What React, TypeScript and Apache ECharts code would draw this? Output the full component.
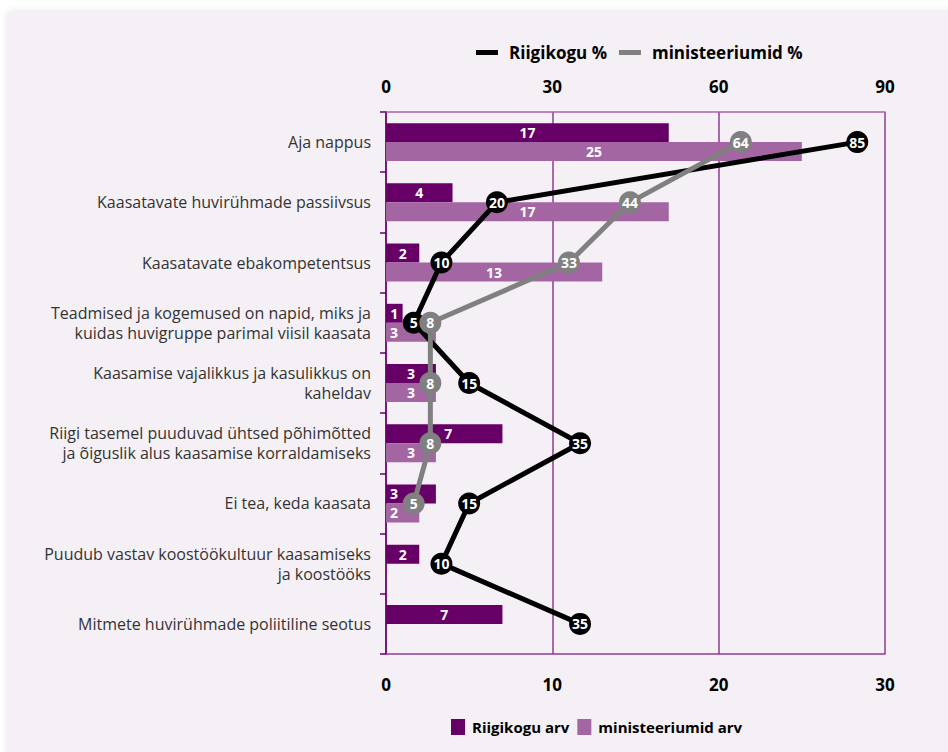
import React, { useEffect, useRef } from "react";
import * as echarts from "echarts";

const categories = [
  "Aja nappus",
  "Kaasatavate huvirühmade passiivsus",
  "Kaasatavate ebakompetentsus",
  "Teadmised ja kogemused on napid, miks ja\nkuidas huvigruppe parimal viisil kaasata",
  "Kaasamise vajalikkus ja kasulikkus on\nkaheldav",
  "Riigi tasemel puuduvad ühtsed põhimõtted\nja õiguslik alus kaasamise korraldamiseks",
  "Ei tea, keda kaasata",
  "Puudub vastav koostöökultuur kaasamiseks\nja koostööks",
  "Mitmete huvirühmade poliitiline seotus",
];
const riigikoguArv = [17, 4, 2, 1, 3, 7, 3, 2, 7];
const ministeeriumidArv = [25, 17, 13, 3, 3, 3, 2, null, null];
const riigikoguPct = [85, 20, 10, 5, 15, 35, 15, 10, 35];
const ministeeriumidPct = [64, 44, 33, 8, 8, 8, 5, null, null];
const countTicks = [0, 10, 20, 30];
const pctTicks = [0, 30, 60, 90];

const FONT = "'Open Sans', 'Noto Sans', sans-serif";
const DARK = "#660066";
const LIGHT = "#a366a3";
const AXIS = "#8d3d8f";

// label placement tweaks (style only), by category index
const riigikoguLabelLeft = [6];
const ministeeriumidLabelLeft = [3, 6];
const riigikoguLabelShift: Record<number, number[]> = { 5: [4, 0] };

export default function App() {
  const ref = useRef<HTMLDivElement>(null);
  useEffect(() => {
    document.body.style.margin = "0";
    const chart = echarts.init(ref.current!, undefined, { renderer: "svg" });
    const barLabel = {
      show: true,
      position: "inside",
      color: "#fff",
      fontWeight: "bold",
      fontSize: 14,
      fontFamily: FONT,
    };
    const dotLabel = {
      show: true,
      position: "inside",
      color: "#fff",
      fontWeight: "bold",
      fontSize: 14,
      fontFamily: FONT,
    };
    const barData = (vals: (number | null)[], left: number[], shift: Record<number, number[]>) =>
      vals.map((v, i) => {
        if (v === null) return null;
        if (left.includes(i)) return { value: v, label: { position: "insideLeft", distance: 4 } };
        if (shift[i]) return { value: v, label: { offset: shift[i] } };
        return v;
      });
    chart.setOption({
      animation: false,
      backgroundColor: "transparent",
      textStyle: { fontFamily: FONT },
      legend: [
        {
          data: ["Riigikogu %", "ministeeriumid %"],
          left: 471,
          top: 39,
          icon: "rect",
          itemWidth: 22,
          itemHeight: 5,
          itemGap: 12,
          textStyle: { fontSize: 17, fontWeight: "bold", color: "#000", fontFamily: FONT, padding: [0, 0, 0, 6] },
        },
        {
          data: ["Riigikogu arv", "ministeeriumid arv"],
          left: 446,
          top: 714,
          icon: "rect",
          itemWidth: 14,
          itemHeight: 16,
          itemGap: 8,
          textStyle: { fontSize: 15, fontWeight: "bold", color: "#000", fontFamily: FONT, padding: [0, 0, 0, 2] },
        },
      ],
      grid: { left: 386, right: 63, top: 112, bottom: 98, containLabel: false },
      xAxis: [
        {
          type: "value",
          position: "bottom",
          min: countTicks[0],
          max: countTicks[countTicks.length - 1],
          interval: 10,
          axisLine: { show: true, lineStyle: { color: AXIS, width: 1.5 } },
          axisTick: { show: false },
          splitLine: { show: true, lineStyle: { color: AXIS, width: 1.5 } },
          axisLabel: { margin: 22, fontSize: 17, fontWeight: "bold", color: "#000", fontFamily: FONT },
        },
        {
          type: "value",
          position: "top",
          min: pctTicks[0],
          max: pctTicks[pctTicks.length - 1],
          interval: 30,
          axisLine: { show: true, lineStyle: { color: "#a865aa", width: 1.5 } },
          axisTick: { show: false },
          splitLine: { show: false },
          axisLabel: { margin: 17, fontSize: 17, fontWeight: "bold", color: "#000", fontFamily: FONT },
        },
      ],
      yAxis: {
        type: "category",
        inverse: true,
        data: categories,
        axisLine: { show: true, lineStyle: { color: DARK, width: 1.5 } },
        axisTick: { show: true, length: 6, lineStyle: { color: DARK, width: 1.5 } },
        axisLabel: {
          margin: 15,
          fontSize: 16,
          lineHeight: 20,
          color: "#333",
          fontFamily: FONT,
          align: "right",
        },
      },
      series: [
        {
          name: "Riigikogu arv",
          type: "bar",
          xAxisIndex: 0,
          data: barData(riigikoguArv, riigikoguLabelLeft, riigikoguLabelShift),
          itemStyle: { color: DARK },
          barGap: "0%",
          barCategoryGap: "37%",
          label: barLabel,
        },
        {
          name: "ministeeriumid arv",
          type: "bar",
          xAxisIndex: 0,
          data: barData(ministeeriumidArv, ministeeriumidLabelLeft, {}),
          itemStyle: { color: LIGHT },
          barGap: "0%",
          barCategoryGap: "37%",
          label: barLabel,
        },
        {
          name: "Riigikogu %",
          type: "line",
          xAxisIndex: 1,
          data: riigikoguPct,
          symbol: "circle",
          symbolSize: 22,
          lineStyle: { color: "#000", width: 5 },
          itemStyle: { color: "#000" },
          label: dotLabel,
          z: 3,
        },
        {
          name: "ministeeriumid %",
          type: "line",
          xAxisIndex: 1,
          data: ministeeriumidPct,
          symbol: "circle",
          symbolSize: 22,
          lineStyle: { color: "#808080", width: 5 },
          itemStyle: { color: "#808080" },
          label: dotLabel,
          z: 4,
        },
      ],
    });
    return () => chart.dispose();
  }, []);
  return (
    <div style={{ position: "relative", width: 948, height: 752, background: "#fff", overflow: "hidden" }}>
      <div
        style={{
          position: "absolute",
          left: 8,
          top: 12,
          width: 960,
          height: 760,
          background: "#f5f0f6",
          boxShadow: "0 0 8px rgba(0,0,0,0.12)",
        }}
      />
      <div ref={ref} style={{ position: "absolute", left: 0, top: 0, width: 948, height: 752 }} />
    </div>
  );
}
